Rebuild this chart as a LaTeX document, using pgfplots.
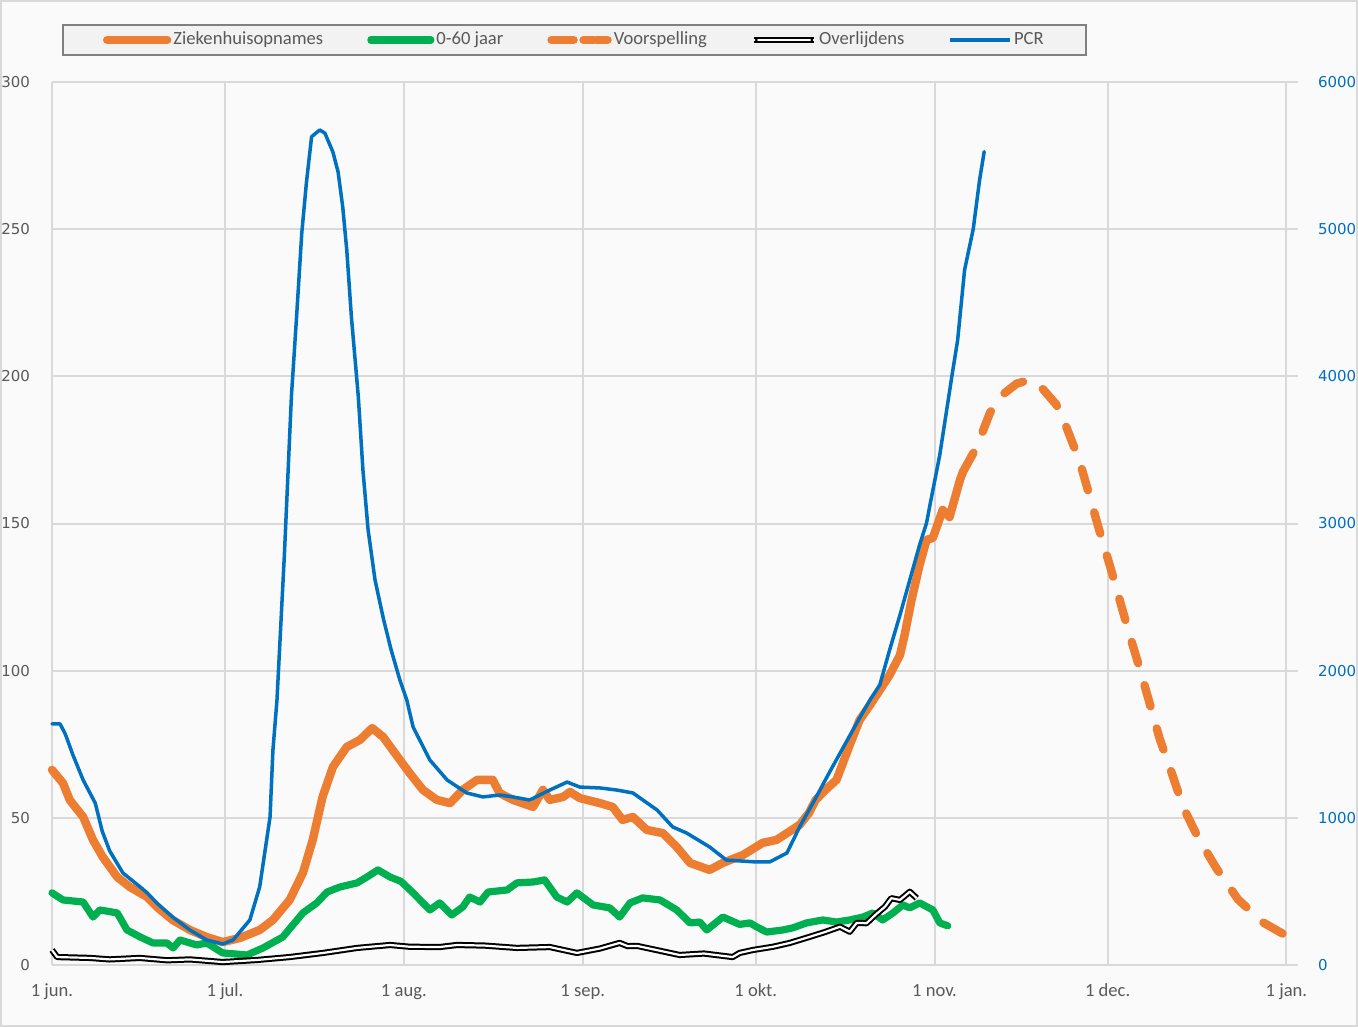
\documentclass[border=0pt]{standalone}
\usepackage{pgfplots}
\pgfplotsset{compat=1.18}
\usepackage{fontspec}
\setmainfont{Carlito}
\newfontfamily\tickfont{DejaVu Sans}
\definecolor{zorange}{HTML}{ED7D31}
\definecolor{zgreen}{HTML}{00B050}
\definecolor{zblue}{HTML}{0070C0}
\definecolor{zgrid}{HTML}{D9D9D9}
\definecolor{ztext}{HTML}{595959}
\definecolor{zbg}{HTML}{FAFAFA}
\definecolor{zlegbg}{HTML}{F2F2F2}
\definecolor{zlegborder}{HTML}{808080}

\pgfplotsset{
  lineleg/.style={legend image code/.code={\path (0bp,0bp) -- (30bp,0bp); \draw[##1, line cap=round] (2bp,0bp) -- (28bp,0bp);}},
  dashleg/.style={legend image code/.code={\path (0bp,0bp) -- (28bp,0bp); \draw[##1, line cap=round, dash pattern=on 5bp off 9bp] (2bp,0bp) -- (22bp,0bp);}},
  common/.style={
  scale only axis, width=623bp, height=441.5bp,
  xmin=0, xmax=216, ymin=0,
  clip=false,
  axis line style={draw=none},
  major tick length=0pt,
  tick style={draw=none},
  scaled y ticks=false,
  /pgf/number format/1000 sep={},
  /pgf/number format/assume math mode=true,
}}

\begin{document}
\begin{tikzpicture}
\path[use as bounding box] (-26bp,-31bp) rectangle (653bp,482.5bp);
\fill[zbg] (-26bp,-31bp) rectangle (653bp,482.5bp);
\draw[zgrid, line width=1bp] (-25.5bp,-30.5bp) rectangle (652.5bp,482bp);

\begin{axis}[common, ymax=300,
  xtick={0,30,61,92,122,153,183,214},
  xticklabels={1 jun.,1 jul.,1 aug.,1 sep.,1 okt.,1 nov.,1 dec.,1 jan.},
  ytick={0,50,...,300},
  grid=major, major grid style={zgrid, line width=1bp},
  xticklabel style={font=\fontsize{9.3bp}{11bp}\selectfont, text=ztext, yshift=-6bp},
  yticklabel style={font=\tickfont\fontsize{7.5bp}{9bp}\selectfont, text=ztext, xshift=-7.5bp},
  legend columns=5,
  lineleg,
  legend style={at={(0.00803,1.0657)}, anchor=north west,
    draw=zlegborder, fill=zlegbg, line width=1bp,
    font=\fontsize{9.3bp}{11bp}\selectfont, text=ztext,
    inner xsep=20bp, inner ysep=3bp,
    nodes={inner xsep=1bp, inner ysep=0bp, text height=7bp, text depth=2bp},
    /tikz/every even column/.append style={column sep=21bp}},
]
% Ziekenhuisopnames
\addplot[zorange, line width=4.2bp, line join=round, line cap=round] coordinates {
(0,66.3) (1.9,61.8) (3.1,56) (5.4,50.3) (7.1,42.5) (8.8,36.7) (11.3,29.9) (13.5,26.5)
(16.5,23.1) (18.2,19.7) (20.9,15.3) (23.9,11.9) (26.8,9.5) (29.6,7.8) (32.6,9.2) (36,11.9)
(38.3,15.3) (41.2,22.1) (43.5,31.3) (45.2,42.5) (46.9,57.1) (48.7,67.3) (51.1,74.1) (53.4,76.5)
(55.5,80.5) (57.4,77.5) (60.3,69.7) (62,65.2) (64.3,59.5) (66.7,56.1) (69,55) (71.2,59.5)
(73.7,62.9) (76.4,62.9) (77.6,58.4) (79.9,56.1) (83.4,53.7) (85.1,59.5) (86.3,56.1) (88.6,57.1)
(89.8,58.8) (91.5,56.7) (95,55) (97.2,53.7) (98.9,49.3) (100.7,50.3) (103.1,45.9) (105.9,44.8)
(108.3,40.1) (110.6,34.7) (114,32.3) (116.3,34.7) (119.8,37.4) (123.2,41.5) (125.6,42.5) (129.6,47.6)
(131.2,51.6) (132.4,56.1) (134.1,59.5) (136,62.9) (138.3,74.8) (140,83.2) (141.8,88.3) (143.5,93.4)
(145.2,98.5) (147,105.3) (147.8,112.1) (149,124) (150.4,135.9) (151.6,144.4) (152.7,145.1) (154.4,154.6)
(155.6,152.2) (157.4,164.8) (157.9,167.5)
};
\addlegendentry{Ziekenhuisopnames}
% 0-60 jaar
\addplot[zgreen, line width=3.6bp, line join=round, line cap=round] coordinates {
(0,24.5) (1.9,22.1) (5.4,21.4) (7.1,16.3) (8.3,18.7) (11.3,17.7) (13,11.9) (15.3,9.5)
(17.5,7.5) (19.9,7.5) (21,5.8) (22.2,8.5) (25.1,6.8) (26.8,7.5) (29.6,4.1) (33.8,3.4)
(36.6,5.8) (40,9.5) (43.5,17.7) (45.9,21.1) (47.7,24.8) (49.9,26.5) (52.9,27.9) (54.6,29.9)
(56.5,32.3) (58.6,29.9) (60.5,28.4) (62.6,24.5) (65.5,18.7) (67.2,21.1) (69.3,17) (71.2,19.7)
(72.4,23.1) (74.2,21.4) (75.6,24.8) (78.9,25.5) (80.6,27.9) (83.4,28.2) (85.4,28.9) (87.5,23.1)
(89.3,21.4) (91,24.5) (93.8,20.4) (96.7,19.4) (98.4,16.3) (100.2,21.1) (102.4,22.8) (105.4,22.1)
(108.3,18.7) (110.6,14.3) (112.3,14.6) (113.5,11.9) (116.3,16.3) (119.2,13.8) (121,14.3) (122.2,12.9)
(123.9,11.2) (126.7,11.9) (128.4,12.6) (130.8,14.3) (133.6,15.3) (136,14.6) (138.3,15.3) (140.6,16.3)
(142.3,17.7) (144,15.3) (145.8,17.7) (147.5,20.4) (148.7,19.4) (150.4,21.1) (152.7,18.7) (153.9,14.3)
(155.3,13.3)
};
\addlegendentry{0-60 jaar}
% Voorspelling
\addplot[zorange, line width=4.2bp, line cap=round, dash pattern=on 11bp off 11.5bp, dashleg] coordinates {
(157.9,167.5) (160.3,176) (162.6,187.6) (164.3,193) (167.2,197.5) (169.5,198.8) (171.8,195.6)
(174.1,190.4) (175.9,182.5) (178.2,170.8) (179.9,159.1) (181.6,147.4) (183.4,135.6) (185.1,123.9)
(186.8,112.2) (188.6,100.5) (190.3,88.8) (192,77) (194.1,65.3) (196.1,53.6) (198.7,43.2)
(201.9,32.7) (205.6,22.3) (209.9,14.5) (213.4,10.6) (215.4,8.6)
};
\addlegendentry{Voorspelling}
% Overlijdens
\addplot[black, line width=1bp, double=white, double distance=1.1bp, line join=round] coordinates {
(0,5.1) (0.9,2.7) (6.6,2.4) (10,1.9) (15.2,2.4) (20,1.6) (23.9,1.9) (29.6,1) (35.5,1.7)
(41.2,2.7) (47,4.1) (52.9,5.8) (58.6,6.8) (62,6.2) (67.2,6.1) (70.2,6.8) (75,6.6) (80.6,5.8)
(86.3,6.1) (91,4.1) (95,5.6) (98.4,7.5) (99.8,6.4) (101.4,6.5) (105,5) (108.8,3.4) (113,3.9) (118,2.7)
(119.2,4.1) (121.5,5.1) (125,6.2) (127.9,7.5) (131.4,9.6) (134,11.2) (136.6,13) (138.3,11.3)
(139.5,14.3) (141.2,14.2) (143,17.5) (144.4,19.8) (145.5,22.7) (147,22.1) (148.7,24.9) (149.9,22.7)
};
\addlegendentry{Overlijdens}
\addlegendimage{zblue, line width=1.75bp}
\addlegendentry{PCR}
\end{axis}

\begin{axis}[common, ymax=6000,
  hide x axis,
  axis y line*=right,
  ytick={0,1000,...,6000},
  yticklabel style={font=\tickfont\fontsize{7.5bp}{9bp}\selectfont, text=zblue, xshift=6.5bp},
]
\addplot[zblue, line width=1.75bp, line join=round, line cap=round] coordinates {
(0,1638) (1.4,1638) (2.3,1570) (3.6,1430) (5.4,1257) (7.5,1100) (8.7,910) (10,775)
(12.3,625) (15.3,530) (16.5,490) (18.2,420) (20.9,326) (23.9,238) (26.8,170) (29.6,143)
(31.4,170) (34.3,306) (36,530) (37.8,1006) (38.3,1461) (39,1800) (40.3,2800) (41.5,3862)
(42.4,4405) (43.3,4974) (44.1,5314) (45,5628) (46.4,5674) (47.3,5653) (48.7,5524) (49.6,5388)
(50.4,5151) (51.1,4858) (51.9,4405) (53.1,3862) (53.9,3364) (54.8,2956) (56,2616) (57.5,2344)
(58.8,2140) (60.3,1937) (61.5,1801) (62.6,1617) (65.5,1393) (68.5,1257) (71.9,1169) (74.7,1142)
(77.6,1155) (79.9,1142) (82.8,1121) (86.3,1189) (89.3,1243) (91.5,1209) (95,1203) (97.9,1189)
(100.7,1169) (104.9,1053) (107.6,938) (110,897) (114,802) (116.9,713) (122.1,700) (124.4,700)
(127.4,761) (129.6,938) (132.2,1121) (134.8,1311) (137.4,1495) (140,1678) (141.8,1801) (143.5,1903)
(145.2,2140) (147,2378) (148.7,2616) (150.4,2854) (151.6,3003) (152.2,3126) (153.9,3466) (156,4002)
(157,4247) (158.2,4723) (159.7,5001) (160.8,5334) (161.6,5527)
};
\end{axis}
\end{tikzpicture}
\end{document}
